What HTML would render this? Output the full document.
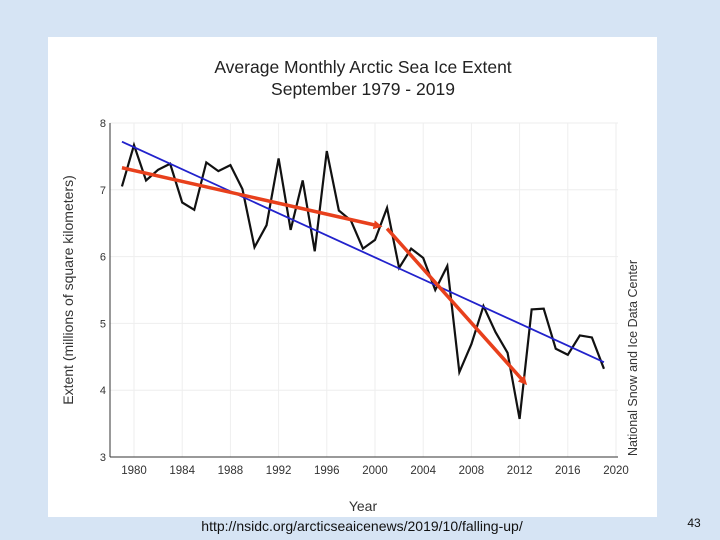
<!DOCTYPE html>
<html><head><meta charset="utf-8"><style>
body{margin:0;width:720px;height:540px;overflow:hidden;background:#d9e6f5;font-family:"Liberation Sans",sans-serif}
svg{position:absolute;left:0;top:0}
</style></head><body>
<svg width="720" height="540">
<defs><marker id="ah" markerUnits="userSpaceOnUse" markerWidth="9" markerHeight="9" refX="5" refY="4.5" orient="auto"><path d="M0,0 L9,4.5 L0,9 z" fill="#e8401c"/></marker></defs>
<rect x="0" y="0" width="720" height="540" fill="#d6e4f4"/>
<rect x="48" y="37" width="609" height="480" fill="#fff"/>
<text x="363" y="73" font-size="17.5" text-anchor="middle" fill="#222">Average Monthly Arctic Sea Ice Extent</text>
<text x="363" y="95" font-size="17.5" text-anchor="middle" fill="#222">September 1979 - 2019</text>
<g id="grid"></g><g id="axes"></g><g id="marks"></g>
<text x="363" y="511" font-size="14" text-anchor="middle" fill="#333">Year</text>
<text transform="translate(73,290) rotate(-90)" font-size="14" text-anchor="middle" fill="#333">Extent (millions of square kilometers)</text>
<text transform="translate(637,358) rotate(-90)" font-size="12.5" text-anchor="middle" fill="#333">National Snow and Ice Data Center</text>
<text x="362" y="531" font-size="14" text-anchor="middle" fill="#111">http://nsidc.org/arcticseaicenews/2019/10/falling-up/</text>
<text x="694" y="527" font-size="12" text-anchor="middle" fill="#111">43</text>
</svg>
<script>
const years=[1979,1980,1981,1982,1983,1984,1985,1986,1987,1988,1989,1990,1991,1992,1993,1994,1995,1996,1997,1998,1999,2000,2001,2002,2003,2004,2005,2006,2007,2008,2009,2010,2011,2012,2013,2014,2015,2016,2017,2018,2019];
const extent=[7.05,7.67,7.14,7.30,7.39,6.81,6.70,7.41,7.28,7.37,7.01,6.14,6.47,7.47,6.40,7.14,6.08,7.58,6.69,6.54,6.12,6.25,6.73,5.83,6.12,5.98,5.50,5.86,4.27,4.69,5.26,4.87,4.56,3.57,5.21,5.22,4.62,4.53,4.82,4.79,4.32];
const xTicks=[1980,1984,1988,1992,1996,2000,2004,2008,2012,2016,2020];
const yTicks=[3,4,5,6,7,8];
const blueTrend=[[1979,7.72],[2019,4.42]];
const orangeTrend=[[1979,7.33],[2000.3,6.46]];
const orangeArrow=[[2001,6.42],[2012.4,4.12]];
const X=y=>134+(y-1980)*12.05;
const Y=v=>457-(v-3)*66.8;
const NS="http://www.w3.org/2000/svg";
function mk(parent,tag,attrs){const e=document.createElementNS(NS,tag);for(const k in attrs)e.setAttribute(k,attrs[k]);document.getElementById(parent).appendChild(e);return e;}
xTicks.forEach(t=>{
 const g=mk('grid','line',{x1:X(t),x2:X(t),y1:Y(8),y2:Y(3),stroke:'#eee'});
 
 
 const l=mk('axes','text',{x:X(t),y:474,'font-size':11.5,'text-anchor':'middle',fill:'#333'});l.textContent=t;
 
 
});
yTicks.forEach(t=>{
 if(t>3){const g=mk('grid','line',{x1:110,x2:618,y1:Y(t),y2:Y(t),stroke:'#eee'});
 
 }
 const l=mk('axes','text',{x:106,y:Y(t)+4,'font-size':11,'text-anchor':'end',fill:'#333'});l.textContent=t;
 
 
});
let a=mk('axes','line',{x1:110,x2:110,y1:Y(8),y2:Y(3),stroke:'#333'});


a=mk('axes','line',{x1:110,x2:618,y1:Y(3),y2:Y(3),stroke:'#333'});


const pts=years.map((y,i)=>X(y)+','+Y(extent[i])).join(' ');
let p=mk('marks','polyline',{points:pts,fill:'none',stroke:'#111','stroke-width':2.2,'stroke-linejoin':'miter'});


p=mk('marks','line',{x1:X(blueTrend[0][0]),y1:Y(blueTrend[0][1]),x2:X(blueTrend[1][0]),y2:Y(blueTrend[1][1]),stroke:'#2222cc','stroke-width':1.8});


p=mk('marks','line',{x1:X(orangeTrend[0][0]),y1:Y(orangeTrend[0][1]),x2:X(orangeTrend[1][0]),y2:Y(orangeTrend[1][1]),stroke:'#e8401c','stroke-width':3.5,'marker-end':'url(#ah)'});


p=mk('marks','line',{x1:X(orangeArrow[0][0]),y1:Y(orangeArrow[0][1]),x2:X(orangeArrow[1][0]),y2:Y(orangeArrow[1][1]),stroke:'#e8401c','stroke-width':3.5,'marker-end':'url(#ah)'});


</script>
</body></html>
